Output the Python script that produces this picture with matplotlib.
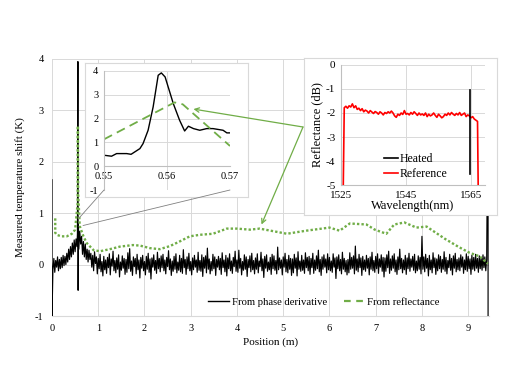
import numpy as np
import matplotlib
matplotlib.use("Agg")
import matplotlib.pyplot as plt
from matplotlib.lines import Line2D
from matplotlib.patches import ConnectionPatch

plt.rcParams['font.family'] = ['Liberation Serif', 'DejaVu Serif']
plt.rcParams['axes.unicode_minus'] = False

# ---- main trace: from phase derivative ----
edge_pos = [0.0, 0.0]
edge_val = [1.65, -1.0]
pre_start, pre_step = 0.02, 0.02
pre_val = [-0.10, 0.12, -0.15, 0.08, -0.05, 0.15, -0.12, 0.10, -0.08, 0.14, -0.06, 0.18,
           -0.02, 0.16, 0.00, 0.22, 0.05, 0.30, 0.10, 0.35, 0.15, 0.42, 0.20, 0.48,
           0.25, 0.50, 0.35]
peak_pos = [0.55, 0.56, 0.565, 0.57, 0.58, 0.60, 0.62, 0.64, 0.66, 0.68, 0.70, 0.72,
            0.74, 0.76, 0.78]
peak_val = [0.60, 3.95, -0.50, 0.80, 0.30, 0.65, 0.40, 0.55, 0.20, 0.45, 0.15, 0.40,
            0.10, 0.30, 0.05]
noise_start, noise_step = 0.80, 0.02
noise_val = [
    0.28, 0.10, 0.22, -0.05, 0.18, -0.12, 0.25, 0.02, 0.15, -0.18, 0.12, -0.08, 0.20, -0.14, 0.06, -0.22, 0.16, -0.10, 0.09, -0.17,
    0.14, -0.06, 0.21, -0.20, 0.11, -0.03, 0.26, -0.12, 0.08, -0.16, 0.13, -0.09, 0.19, -0.24, 0.05, -0.11, 0.17, -0.07, 0.12, -0.19,
    0.10, -0.15, 0.23, -0.08, 0.31, -0.13, 0.07, -0.21, 0.15, -0.04, 0.12, -0.18, 0.20, -0.10, 0.09, -0.26, 0.14, -0.07, 0.18, -0.12,
    0.06, -0.20, 0.16, -0.09, 0.22, -0.15, 0.11, -0.28, 0.13, -0.05, 0.19, -0.11, 0.08, -0.17, 0.24, -0.08, 0.12, -0.14, 0.17, -0.06,
    0.20, -0.12, 0.09, -0.18, 0.14, -0.04, 0.27, -0.10, 0.11, -0.21, 0.07, -0.13, 0.16, -0.09, 0.21, -0.16, 0.05, -0.11, 0.18, -0.14,
    0.12, -0.17, 0.29, -0.06, 0.10, -0.19, 0.15, -0.08, 0.22, -0.12, 0.06, -0.20, 0.13, -0.10, 0.18, -0.05, 0.09, -0.15, 0.24, -0.11,
    0.08, -0.13, 0.19, -0.23, 0.14, -0.07, 0.17, -0.16, 0.32, -0.09, 0.11, -0.18, 0.06, -0.12, 0.20, -0.08, 0.15, -0.21, 0.10, -0.05,
    0.16, -0.10, 0.12, -0.19, 0.23, -0.06, 0.09, -0.14, 0.18, -0.22, 0.13, -0.08, 0.21, -0.12, 0.07, -0.17, 0.14, -0.04, 0.26, -0.13,
    0.09, -0.15, 0.28, -0.07, 0.12, -0.20, 0.06, -0.11, 0.19, -0.09, 0.15, -0.23, 0.10, -0.06, 0.17, -0.14, 0.22, -0.10, 0.08, -0.18,
    0.13, -0.09, 0.21, -0.16, 0.07, -0.04, 0.24, -0.12, 0.11, -0.25, 0.16, -0.07, 0.19, -0.13, 0.05, -0.10, 0.14, -0.19, 0.20, -0.08,
    0.17, -0.11, 0.08, -0.18, 0.34, -0.10, 0.13, -0.07, 0.09, -0.20, 0.15, -0.05, 0.22, -0.14, 0.10, -0.16, 0.18, -0.09, 0.12, -0.21,
    0.11, -0.16, 0.20, -0.07, 0.13, -0.22, 0.25, -0.09, 0.07, -0.13, 0.18, -0.11, 0.09, -0.17, 0.23, -0.06, 0.14, -0.12, 0.16, -0.19,
    0.12, -0.06, 0.22, -0.17, 0.09, -0.11, 0.17, -0.08, 0.28, -0.14, 0.10, -0.21, 0.15, -0.09, 0.19, -0.05, 0.11, -0.16, 0.21, -0.10,
    0.14, -0.12, 0.07, -0.15, 0.21, -0.05, 0.13, -0.27, 0.15, -0.08, 0.19, -0.12, 0.10, -0.18, 0.24, -0.09, 0.12, -0.14, 0.08, -0.20,
    0.10, -0.16, 0.23, -0.09, 0.14, -0.07, 0.17, -0.18, 0.36, -0.11, 0.11, -0.14, 0.20, -0.06, 0.13, -0.21, 0.16, -0.10, 0.09, -0.13,
    0.18, -0.07, 0.12, -0.20, 0.15, -0.09, 0.24, -0.12, 0.08, -0.15, 0.16, -0.08, 0.21, -0.17, 0.11, -0.05, 0.19, -0.13, 0.14, -0.24,
    0.13, -0.13, 0.19, -0.06, 0.26, -0.17, 0.11, -0.11, 0.17, -0.07, 0.21, -0.14, 0.09, -0.19, 0.15, -0.10, 0.30, -0.08, 0.12, -0.16,
    0.09, -0.10, 0.18, -0.19, 0.13, -0.08, 0.22, -0.13, 0.11, -0.05, 0.16, -0.11, 0.20, -0.16, 0.07, -0.12, 0.17, -0.09, 0.14, -0.18,
    0.55, -0.09, 0.15, -0.14, 0.20, -0.07, 0.12, -0.22, 0.18, -0.10, 0.09, -0.16, 0.23, -0.06, 0.13, -0.19, 0.11, -0.12, 0.19, -0.08,
    0.16, -0.15, 0.10, -0.09, 0.25, -0.13, 0.14, -0.18, 0.08, -0.06, 0.20, -0.11, 0.12, -0.20, 0.17, -0.07, 0.22, -0.14, 0.10, -0.10,
    0.13, -0.12, 0.19, -0.05, 0.15, -0.17, 0.09, -0.10, 0.21, -0.13, 0.16, -0.08, 0.11, -0.19, 0.18, -0.09, 0.14, -0.12, 0.20, -0.07,
    0.12, -0.15, 0.17, -0.08, 0.13, -0.11, 0.19, -0.06, 0.15, -0.12, 0.10,
]
tail_pos = [9.43, 9.43]
tail_val = [4.0, -1.0]

# ---- main trace: from reflectance ----
refl_pos = [0.07, 0.07, 0.10, 0.20, 0.32, 0.43, 0.50, 0.555, 0.56, 0.565, 0.60, 0.68,
            0.75, 0.90, 1.04, 1.25, 1.47, 1.75, 1.90, 2.12, 2.33, 2.55, 2.76, 2.98,
            3.20, 3.48, 3.78, 4.00, 4.28, 4.49, 5.08, 5.50, 6.00, 6.22, 6.44, 6.80,
            6.98, 7.23, 7.40, 7.62, 7.88, 8.10, 8.30, 8.50, 8.80, 9.03, 9.25, 9.42]
refl_val = [0.90, 0.62, 0.58, 0.55, 0.55, 0.60, 0.68, 1.20, 2.70, 1.40, 0.75, 0.55,
            0.42, 0.28, 0.26, 0.30, 0.35, 0.38, 0.37, 0.32, 0.30, 0.36, 0.45, 0.55,
            0.58, 0.60, 0.70, 0.70, 0.68, 0.70, 0.60, 0.66, 0.72, 0.66, 0.80, 0.78,
            0.68, 0.60, 0.78, 0.82, 0.72, 0.74, 0.62, 0.50, 0.34, 0.23, 0.16, 0.02]

# ---- zoom inset (0.55 - 0.57 m) ----
zoom_pos = [0.5500, 0.5512, 0.5520, 0.5536, 0.5543, 0.5557, 0.5562, 0.5570, 0.5578,
            0.5586, 0.5591, 0.5597, 0.5610, 0.5620, 0.5628, 0.5634, 0.5642, 0.5652,
            0.5663, 0.5673, 0.5689, 0.5695, 0.5700]
zoom_val = [0.46, 0.42, 0.53, 0.53, 0.50, 0.74, 0.95, 1.51, 2.49, 3.82, 3.92, 3.75,
            2.63, 1.93, 1.48, 1.68, 1.58, 1.51, 1.58, 1.58, 1.51, 1.40, 1.40]
zoom_refl_pos = [0.5500, 0.5612, 0.5625, 0.5700]
zoom_refl_val = [1.13, 2.68, 2.60, 0.85]

# ---- reflectance spectrum inset ----
ref_wl_start, ref_wl_step = 1526.0, 0.5
ref_db = [
    -1.78, -1.72, -1.80, -1.70, -1.75, -1.62, -1.78, -1.70, -1.85,
    -1.80, -1.90, -1.82, -1.95, -1.88, -1.92, -2.00, -1.90, -1.96, -2.02,
    -1.94, -1.98, -2.05, -1.95, -2.00, -2.08, -1.98, -2.02, -1.95, -2.00,
    -1.92, -2.00, -2.12, -2.18, -2.05, -2.10, -2.00, -2.06, -1.90, -2.05,
    -2.02, -2.08, -1.98, -2.05, -1.95, -2.02, -2.10, -2.00, -2.08, -2.04,
    -2.10, -2.00, -2.15, -2.05, -2.12, -2.08, -2.00, -2.10, -2.18, -2.05,
    -2.12, -2.20, -2.15, -2.05, -2.10, -2.00, -2.08, -1.98, -2.05, -2.10,
    -2.02, -2.08, -1.98, -2.10, -2.05, -2.00, -2.15, -2.08, -2.12, -2.20,
    -2.15, -2.25, -2.30, -2.35,
]
ref_edges_wl = [1525.7, 1567.2]
heated_wl = [1564.6, 1564.6]
heated_db = [-1.05, -4.55]

GREEN = '#70ad47'
GRID = '#d9d9d9'

fig = plt.figure(figsize=(5.22, 3.75), dpi=100)
W, H = 522.0, 375.0


def px_rect(x0, y0, x1, y1):
    return [x0 / W, 1 - y1 / H, (x1 - x0) / W, (y1 - y0) / H]


# main axes
ax = fig.add_axes(px_rect(52, 59, 489, 316))
pre_pos = pre_start + pre_step * np.arange(len(pre_val))
noise_pos = noise_start + noise_step * np.arange(len(noise_val))
ph_pos = np.concatenate([edge_pos, pre_pos, peak_pos, noise_pos, tail_pos])
ph_val = np.concatenate([edge_val, pre_val, peak_val, noise_val, tail_val])
ax.plot(ph_pos, ph_val, color='black', lw=0.85, zorder=3)
ax.plot(refl_pos, refl_val, color=GREEN, lw=1.7, ls=(0, (1.0, 0.9)), zorder=4)
ax.set_xlim(0, 9.45)
ax.set_ylim(-1, 4)
ax.set_xticks(range(0, 10))
ax.set_yticks(range(-1, 5))
ax.grid(True, color=GRID, lw=0.7)
ax.set_axisbelow(True)
for s in ['top', 'right', 'left']:
    ax.spines[s].set_visible(False)
ax.spines['bottom'].set_color(GRID)
ax.tick_params(length=0, labelsize=7.5, pad=6)
ax.set_xlabel('Position (m)', fontsize=8, labelpad=3)
ax.set_ylabel('Measured temperature shift (K)', fontsize=8)
ax.yaxis.set_label_coords(-0.062, 0.5)
handles = [Line2D([], [], color='black', lw=1.0),
           Line2D([], [], color=GREEN, lw=1.6, dashes=(3, 2.5))]
ax.legend(handles, ['From phase derivative', 'From reflectance'], loc='center',
          bbox_to_anchor=(0.622, 0.055), ncol=2, frameon=False, fontsize=7.7,
          handlelength=2.0, handletextpad=0.2, columnspacing=1.6)

# zoom inset frame + axes
fr1 = fig.add_axes(px_rect(85, 63, 248, 197))
fr1.set_xticks([]); fr1.set_yticks([])
for s in fr1.spines.values():
    s.set_color(GRID)
ax1 = fig.add_axes(px_rect(104, 71, 230, 190))
ax1.plot(zoom_pos, zoom_val, color='black', lw=1.0)
ax1.plot(zoom_refl_pos, zoom_refl_val, color=GREEN, lw=1.3, dashes=(5, 3))
ax1.set_xlim(0.55, 0.57)
ax1.set_ylim(-1, 4)
ax1.set_xticks([0.55, 0.56, 0.57])
ax1.set_xticklabels(['0.55', '0.56', '0.57'])
ax1.set_yticks(range(-1, 5))
ax1.grid(True, color=GRID, lw=0.7)
ax1.set_axisbelow(True)
ax1.spines['top'].set_visible(False)
ax1.spines['right'].set_visible(False)
ax1.spines['bottom'].set_position(('data', 0))
ax1.spines['bottom'].set_color('#bfbfbf')
ax1.spines['left'].set_color('#bfbfbf')
ax1.tick_params(length=0, labelsize=7.5, pad=4)

# spectrum inset frame + axes
fr2 = fig.add_axes(px_rect(304, 58, 497, 215))
fr2.set_xticks([]); fr2.set_yticks([])
for s in fr2.spines.values():
    s.set_color(GRID)
ax2 = fig.add_axes(px_rect(341, 65, 485, 185))
ref_wl = ref_wl_start + ref_wl_step * np.arange(len(ref_db))
ref_x = np.concatenate([[ref_edges_wl[0]], ref_wl, [ref_edges_wl[1]]])
ref_y = np.concatenate([[-5.0], ref_db, [-5.0]])
ax2.plot(ref_x, ref_y, color='#ff0000', lw=1.2, zorder=3)
ax2.plot(heated_wl, heated_db, color='black', lw=1.2, zorder=4)
ax2.set_xlim(1525, 1569.3)
ax2.set_ylim(-5, 0)
ax2.set_xticks([1525, 1545, 1565])
ax2.set_yticks(range(-5, 1))
ax2.grid(True, color=GRID, lw=0.7)
ax2.set_axisbelow(True)
ax2.spines['top'].set_visible(False)
ax2.spines['right'].set_visible(False)
ax2.spines['bottom'].set_color('#bfbfbf')
ax2.spines['left'].set_color('#bfbfbf')
ax2.tick_params(length=0, labelsize=8, pad=4)
ax2.set_xlabel('Wavelength(nm)', fontsize=9, labelpad=0)
ax2.set_ylabel('Reflectance (dB)', fontsize=9, labelpad=2)
h2 = [Line2D([], [], color='black', lw=1.2), Line2D([], [], color='#ff0000', lw=1.2)]
ax2.legend(h2, ['Heated', 'Reference'], loc='lower center', bbox_to_anchor=(0.52, -0.05),
           frameon=False, fontsize=8.5, handlelength=1.2, handletextpad=0.1,
           labelspacing=0.3)

# gray connectors from zoom inset to main trace
for xa, xb, yb in [(0.55, 0.58, 0.90), (0.57, 0.67, 0.76)]:
    con = ConnectionPatch(xyA=(xa, -1), coordsA=ax1.transData,
                          xyB=(xb, yb), coordsB=ax.transData,
                          color='#808080', lw=0.6)
    fig.add_artist(con)

# green arrows from the spectrum inset
tail = (303 / W, 1 - 127 / H)
for target, axes in [((0.5642, 2.4), ax1), ((4.53, 0.78), ax)]:
    arr = ConnectionPatch(xyA=tail, coordsA='figure fraction',
                          xyB=target, coordsB=axes.transData,
                          arrowstyle='->', color=GREEN, lw=0.9,
                          mutation_scale=8)
    fig.add_artist(arr)

fig.savefig('out.png', dpi=100)
